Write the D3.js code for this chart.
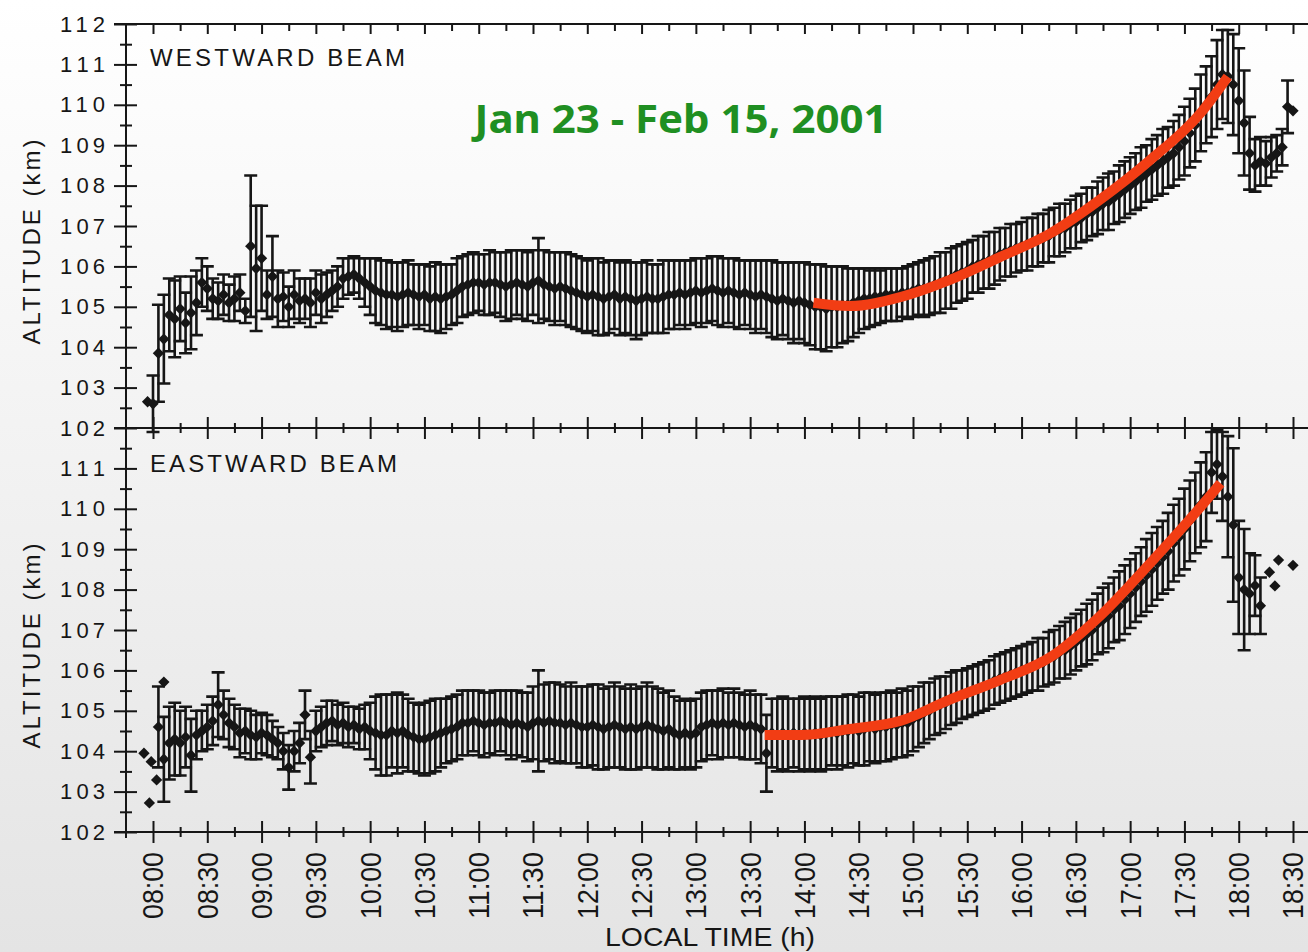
<!DOCTYPE html>
<html><head><meta charset="utf-8">
<script src="https://cdn.jsdelivr.net/npm/d3@7"></script>
<style>html,body{margin:0;padding:0;background:#fff;}svg{display:block;}</style>
</head><body>
<svg id="c" width="1308" height="952"></svg>
<script>
// ---------- DATA ----------
const times = [
"07:57",
"08:00","08:03","08:06","08:09","08:12","08:15","08:18","08:21","08:24","08:27","08:30","08:33","08:36","08:39","08:42","08:45","08:48","08:51","08:54","08:57",
"09:00","09:03","09:06","09:09","09:12","09:15","09:18","09:21","09:24","09:27","09:30","09:33","09:36","09:39","09:42","09:45","09:48","09:51","09:54","09:57",
"10:00","10:03","10:06","10:09","10:12","10:15","10:18","10:21","10:24","10:27","10:30","10:33","10:36","10:39","10:42","10:45","10:48","10:51","10:54","10:57",
"11:00","11:03","11:06","11:09","11:12","11:15","11:18","11:21","11:24","11:27","11:30","11:33","11:36","11:39","11:42","11:45","11:48","11:51","11:54","11:57",
"12:00","12:03","12:06","12:09","12:12","12:15","12:18","12:21","12:24","12:27","12:30","12:33","12:36","12:39","12:42","12:45","12:48","12:51","12:54","12:57",
"13:00","13:03","13:06","13:09","13:12","13:15","13:18","13:21","13:24","13:27","13:30","13:33","13:36","13:39","13:42","13:45","13:48","13:51","13:54","13:57",
"14:00","14:03","14:06","14:09","14:12","14:15","14:18","14:21","14:24","14:27","14:30","14:33","14:36","14:39","14:42","14:45","14:48","14:51","14:54","14:57",
"15:00","15:03","15:06","15:09","15:12","15:15","15:18","15:21","15:24","15:27","15:30","15:33","15:36","15:39","15:42","15:45","15:48","15:51","15:54","15:57",
"16:00","16:03","16:06","16:09","16:12","16:15","16:18","16:21","16:24","16:27","16:30","16:33","16:36","16:39","16:42","16:45","16:48","16:51","16:54","16:57",
"17:00","17:03","17:06","17:09","17:12","17:15","17:18","17:21","17:24","17:27","17:30","17:33","17:36","17:39","17:42","17:45","17:48","17:51","17:54","17:57",
"18:00","18:03","18:06","18:09","18:12","18:15","18:18","18:21","18:24","18:27","18:30"
];

// Westward beam: mean altitude (km) and error half-width (km)
const westAlt = [
102.65,
102.6,103.85,104.2,104.8,104.7,104.95,104.6,104.85,105.1,105.6,105.45,105.2,105.15,105.3,105.1,105.2,105.35,104.9,106.5,105.95,
106.2,105.3,105.75,105.2,105.25,105.0,105.3,105.15,105.2,105.1,105.35,105.2,105.3,105.4,105.5,105.7,105.75,105.8,105.7,105.6,
105.5,105.4,105.35,105.3,105.3,105.25,105.3,105.35,105.3,105.25,105.3,105.2,105.25,105.2,105.25,105.3,105.4,105.5,105.55,105.6,
105.6,105.55,105.6,105.6,105.55,105.5,105.55,105.6,105.55,105.5,105.6,105.65,105.55,105.5,105.45,105.5,105.45,105.4,105.35,105.3,
105.25,105.3,105.25,105.2,105.25,105.3,105.2,105.25,105.2,105.15,105.2,105.25,105.2,105.2,105.25,105.3,105.3,105.35,105.3,105.35,
105.4,105.35,105.4,105.45,105.4,105.35,105.4,105.35,105.3,105.35,105.3,105.25,105.3,105.25,105.2,105.15,105.2,105.15,105.1,105.15,
105.1,105.05,105.0,105.0,104.95,105.0,105.0,105.05,105.05,105.1,105.15,105.2,105.2,105.25,105.25,105.3,105.3,105.3,105.35,105.35,
105.4,105.45,105.45,105.5,105.55,105.6,105.65,105.7,105.8,105.85,105.9,106.0,106.05,106.1,106.15,106.2,106.3,106.35,106.4,106.45,
106.5,106.55,106.6,106.65,106.7,106.75,106.85,106.9,106.95,107.05,107.1,107.2,107.3,107.35,107.45,107.55,107.6,107.7,107.8,107.9,
108.0,108.1,108.2,108.3,108.4,108.5,108.6,108.7,108.8,108.95,109.1,109.3,109.5,109.8,110.0,110.2,110.5,110.75,110.7,110.5,
110.1,109.55,108.8,108.5,108.6,108.55,108.7,108.8,108.95,109.95,109.85
];
const westErr = [
0,
0.7,1.2,1.1,0.9,0.95,0.8,0.75,0.9,0.8,0.6,0.55,0.5,0.45,0.5,0.45,0.55,0.45,0.3,1.75,1.55,
1.3,0.6,1.0,0.7,0.6,0.5,0.6,0.55,0.5,0.6,0.55,0.6,0.55,0.5,0.5,0.5,0.45,0.45,0.5,0.6,
0.7,0.8,0.8,0.85,0.8,0.85,0.8,0.8,0.75,0.8,0.75,0.8,0.85,0.85,0.8,0.75,0.8,0.75,0.75,0.75,
0.7,0.75,0.8,0.75,0.8,0.85,0.85,0.8,0.85,0.85,0.8,1.05,0.85,0.85,0.9,0.85,0.9,0.9,0.9,0.9,
0.9,0.9,0.95,0.9,0.9,0.85,0.9,0.9,0.9,0.95,0.9,0.9,0.85,0.85,0.9,0.85,0.85,0.8,0.85,0.8,
0.8,0.85,0.8,0.8,0.85,0.85,0.8,0.85,0.85,0.8,0.85,0.9,0.85,0.9,0.95,0.95,0.9,0.95,1.0,0.95,
1.0,1.0,1.05,1.05,1.05,1.0,1.0,0.95,0.9,0.85,0.8,0.75,0.7,0.7,0.65,0.65,0.65,0.65,0.6,0.65,
0.65,0.65,0.7,0.7,0.7,0.75,0.7,0.75,0.7,0.7,0.7,0.65,0.7,0.65,0.7,0.65,0.65,0.6,0.65,0.6,
0.6,0.65,0.6,0.65,0.6,0.65,0.6,0.65,0.6,0.6,0.65,0.6,0.65,0.6,0.65,0.65,0.7,0.65,0.7,0.7,
0.7,0.7,0.75,0.7,0.75,0.75,0.8,0.75,0.8,0.8,0.85,0.85,0.9,0.95,0.95,1.0,1.1,1.1,1.15,1.25,
1.3,1.3,0.9,0.65,0.6,0.55,0.5,0.45,0.45,0.65,0
];

// Eastward beam
const eastAlt = [
null,
null,104.6,103.8,104.2,104.3,104.2,104.35,103.9,104.4,104.5,104.6,104.75,105.15,104.9,104.7,104.6,104.45,104.5,104.4,104.35,
104.45,104.4,104.3,104.2,104.0,103.6,104.0,104.2,104.9,103.85,104.5,104.6,104.7,104.75,104.65,104.7,104.6,104.65,104.55,104.6,
104.5,104.45,104.4,104.4,104.5,104.45,104.5,104.4,104.35,104.3,104.3,104.35,104.4,104.45,104.5,104.55,104.6,104.7,104.7,104.75,
104.7,104.65,104.7,104.7,104.75,104.7,104.65,104.7,104.65,104.6,104.7,104.75,104.7,104.75,104.7,104.7,104.65,104.7,104.65,104.6,
104.6,104.65,104.6,104.55,104.6,104.65,104.6,104.55,104.6,104.55,104.6,104.65,104.6,104.55,104.5,104.55,104.45,104.4,104.45,104.4,
104.45,104.6,104.65,104.7,104.65,104.7,104.65,104.7,104.65,104.6,104.65,104.6,104.55,103.95,104.45,104.4,104.45,104.4,104.45,104.4,
104.45,104.4,104.45,104.4,104.45,104.5,104.45,104.5,104.5,104.55,104.5,104.55,104.6,104.55,104.6,104.6,104.65,104.65,104.7,104.7,
104.8,104.85,104.95,105.0,105.1,105.15,105.2,105.3,105.35,105.4,105.45,105.5,105.55,105.6,105.65,105.75,105.8,105.85,105.9,105.95,
106.0,106.05,106.1,106.15,106.2,106.3,106.35,106.45,106.5,106.6,106.7,106.8,106.9,107.0,107.15,107.25,107.35,107.5,107.6,107.75,
107.9,108.05,108.2,108.35,108.5,108.65,108.8,108.95,109.15,109.3,109.5,109.7,109.9,110.1,110.3,110.9,111.1,110.8,110.3,109.6,
108.3,108.0,107.9,108.1,107.6,null,null,null,null,null,null
];
const eastErr = [
0,
0,1.0,1.05,0.9,0.9,0.8,0.75,0.9,0.6,0.5,0.55,0.6,0.8,0.6,0.6,0.55,0.6,0.55,0.6,0.55,
0.5,0.5,0.45,0.4,0.45,0.55,0.5,0.5,0.6,0.65,0.5,0.5,0.55,0.5,0.5,0.5,0.5,0.45,0.5,0.55,
0.7,0.9,1.0,1.0,0.9,1.0,0.9,0.9,0.85,0.85,0.9,0.9,0.9,0.85,0.8,0.8,0.8,0.8,0.8,0.75,
0.8,0.8,0.75,0.8,0.75,0.8,0.85,0.8,0.8,0.85,0.9,1.25,0.95,0.95,1.0,0.95,0.95,1.0,0.95,1.0,
1.0,1.0,1.05,1.0,1.0,1.05,1.0,1.0,1.05,1.0,1.0,1.05,1.0,1.0,0.95,0.95,0.9,0.85,0.85,0.85,
0.85,0.85,0.85,0.8,0.85,0.85,0.8,0.85,0.8,0.8,0.85,0.8,0.85,0.95,0.85,0.9,0.9,0.9,0.85,0.9,
0.9,0.9,0.9,0.9,0.9,0.85,0.9,0.85,0.9,0.85,0.85,0.9,0.85,0.85,0.85,0.85,0.85,0.8,0.85,0.8,
0.8,0.75,0.75,0.7,0.7,0.7,0.65,0.65,0.65,0.6,0.6,0.6,0.6,0.6,0.6,0.6,0.6,0.6,0.6,0.6,
0.6,0.6,0.6,0.65,0.6,0.65,0.65,0.65,0.7,0.7,0.7,0.7,0.75,0.75,0.75,0.8,0.8,0.8,0.85,0.85,
0.85,0.85,0.85,0.9,0.9,0.9,0.9,0.95,0.95,0.95,1.0,1.0,1.0,1.05,1.1,1.0,0.85,1.1,1.5,1.9,
1.4,1.5,1.0,0.75,0.7,0,0,0,0,0,0
];
// Eastward points without error bars
const eastExtraTime = ["07:55","07:58","07:59","08:02","08:06","18:17","18:20","18:22","18:30"];
const eastExtraAlt  = [103.95,102.72,103.74,103.29,105.71,108.43,108.09,108.73,108.6];

// Red fitted curves
const westFitTime = ["14:05","14:25","14:53","15:20","15:48","16:16","16:43","17:11","17:39","17:54"];
const westFitAlt  = [105.1,105.02,105.24,105.66,106.23,106.82,107.64,108.63,109.8,110.7];
const eastFitTime = ["13:38","13:58","14:25","14:53","15:20","15:48","16:16","16:43","17:11","17:39","17:50"];
const eastFitAlt  = [104.4,104.4,104.55,104.75,105.27,105.76,106.33,107.33,108.65,110.05,110.63];

// Axis ticks
const yTicks = [102,103,104,105,106,107,108,109,110,111,112];
const xTickLabels = ["08:00","08:30","09:00","09:30","10:00","10:30","11:00","11:30","12:00","12:30","13:00","13:30",
  "14:00","14:30","15:00","15:30","16:00","16:30","17:00","17:30","18:00","18:30"];

// ---------- DRAW ----------
const W = 1308, H = 952;
const svg = d3.select("#c");
const defs = svg.append("defs");
const grad = defs.append("linearGradient").attr("id","bg").attr("x1",0).attr("y1",0).attr("x2",0).attr("y2",1);
grad.append("stop").attr("offset","0%").attr("stop-color","#ffffff");
grad.append("stop").attr("offset","100%").attr("stop-color","#e4e4e4");
svg.append("rect").attr("width",W).attr("height",H).attr("fill","url(#bg)");

const ink = "#161616";
const FONT = "'Liberation Sans', Arial, sans-serif";
const toH = s => { const p = s.split(":"); return +p[0] + (+p[1]) / 60; };

const x = d3.scaleLinear().domain([8, 18.5]).range([153, 1293]);
const yW = d3.scaleLinear().domain([102, 112]).range([428, 24]);
const yE = d3.scaleLinear().domain([102, 112]).range([832, 428]);

const xMajor = xTickLabels.map(toH);
const xMinor = d3.pairs(xMajor).map(([a, b]) => (a + b) / 2);
const yMinor = d3.pairs(yTicks).map(([a, b]) => (a + b) / 2);

function styleAxis(g) {
  g.select(".domain").remove();
  g.selectAll("line").attr("stroke", ink).attr("stroke-width", 2);
}

// ---- Y axes ----
function drawY(y, labelVals) {
  svg.append("g").attr("transform","translate(126,0)")
    .call(d3.axisLeft(y).tickValues(labelVals).tickSize(12).tickPadding(9).tickFormat(d3.format("d")))
    .call(styleAxis)
    .call(g => g.selectAll("text").attr("font-family", FONT).attr("font-size", 22).attr("fill", ink)
      .attr("textLength", 45).attr("lengthAdjust", "spacing"));
  svg.append("g").attr("transform","translate(126,0)")
    .call(d3.axisRight(y).tickValues(labelVals).tickSize(11).tickFormat(""))
    .call(styleAxis);
  svg.append("g").attr("transform","translate(126,0)")
    .call(d3.axisLeft(y).tickValues(yMinor).tickSize(6).tickFormat(""))
    .call(styleAxis);
  svg.append("g").attr("transform","translate(126,0)")
    .call(d3.axisRight(y).tickValues(yMinor).tickSize(6).tickFormat(""))
    .call(styleAxis);
}
drawY(yW, yTicks);
drawY(yE, yTicks.filter(d => d < 112));

svg.append("line").attr("x1",126).attr("x2",126).attr("y1",24).attr("y2",838)
  .attr("stroke", ink).attr("stroke-width", 2);

// ---- X axes ----
[24, 428, 832].forEach(yy => {
  svg.append("line").attr("x1",114).attr("x2",W).attr("y1",yy).attr("y2",yy)
    .attr("stroke", ink).attr("stroke-width", 2);
  const downMaj = yy === 24 ? 10 : 11, downMin = yy === 24 ? 7 : 5;
  svg.append("g").attr("transform",`translate(0,${yy})`)
    .call(d3.axisBottom(x).tickValues(xMajor).tickSize(downMaj).tickFormat("")).call(styleAxis);
  svg.append("g").attr("transform",`translate(0,${yy})`)
    .call(d3.axisBottom(x).tickValues(xMinor).tickSize(downMin).tickFormat("")).call(styleAxis);
  if (yy !== 24) {
    svg.append("g").attr("transform",`translate(0,${yy})`)
      .call(d3.axisTop(x).tickValues(xMajor).tickSize(11).tickFormat("")).call(styleAxis);
    svg.append("g").attr("transform",`translate(0,${yy})`)
      .call(d3.axisTop(x).tickValues(xMinor).tickSize(5).tickFormat("")).call(styleAxis);
  }
});

// x tick labels (rotated)
svg.append("g").selectAll("text").data(xTickLabels).join("text")
  .attr("transform", d => `translate(${x(toH(d))},852) rotate(-90)`)
  .attr("text-anchor", "end").attr("dy", "0.36em")
  .attr("font-family", FONT).attr("font-size", 29).attr("fill", ink)
  .attr("textLength", 67).attr("lengthAdjust", "spacingAndGlyphs")
  .text(d => d);

// axis titles
svg.append("text").attr("x", 710).attr("y", 946).attr("text-anchor","middle")
  .attr("font-family", FONT).attr("font-size", 26).attr("fill", ink)
  .attr("textLength", 210).attr("lengthAdjust","spacingAndGlyphs")
  .text("LOCAL TIME (h)");
[[242],[646]].forEach(([cy]) => {
  svg.append("text").attr("transform", `translate(40,${cy}) rotate(-90)`).attr("text-anchor","middle")
    .attr("font-family", FONT).attr("font-size", 24).attr("fill", ink)
    .attr("textLength", 205).attr("lengthAdjust","spacing")
    .text("ALTITUDE (km)");
});

// panel names
svg.append("text").attr("x",150).attr("y",66).attr("font-family",FONT).attr("font-size",24).attr("fill",ink)
  .attr("textLength",255).attr("lengthAdjust","spacing").text("WESTWARD BEAM");
svg.append("text").attr("x",150).attr("y",472).attr("font-family",FONT).attr("font-size",24).attr("fill",ink)
  .attr("textLength",247).attr("lengthAdjust","spacing").text("EASTWARD BEAM");

// title
svg.append("text").attr("x", 681).attr("y", 133).attr("text-anchor","middle")
  .attr("font-family","'Noto Sans', 'DejaVu Sans', sans-serif").attr("font-weight","bold")
  .attr("font-size", 40).attr("fill", "#1f8f22")
  .attr("textLength", 413).attr("lengthAdjust","spacingAndGlyphs")
  .text("Jan 23 - Feb 15, 2001");

// ---- Data ----
const diamond = d3.symbol().type(d3.symbolSquare).size(64)();

function drawSeries(y, alt, err, exT, exA, fitT, fitA) {
  const pts = times.map((t, i) => ({ t: toH(t), v: alt[i], e: err[i] || 0 }))
    .filter(d => d.v != null);
  const gb = svg.append("g").attr("stroke", ink).attr("stroke-width", 2.6).attr("fill","none");
  const bars = pts.filter(d => d.e > 0);
  gb.selectAll("path").data(bars).join("path")
    .attr("d", d => {
      const xx = x(d.t), y1 = y(d.v + d.e), y2 = y(d.v - d.e), c = 6.5;
      return `M${xx},${y1}V${y2}M${xx - c},${y1}H${xx + c}M${xx - c},${y2}H${xx + c}`;
    });
  const all = pts.concat(exT.map((t, i) => ({ t: toH(t), v: exA[i] })));
  svg.append("g").selectAll("path").data(all).join("path")
    .attr("d", diamond)
    .attr("transform", d => `translate(${x(d.t)},${y(d.v)}) rotate(45)`)
    .attr("fill", ink);
  const line = d3.line().x(d => x(d[0])).y(d => y(d[1])).curve(d3.curveMonotoneX);
  svg.append("path").datum(fitT.map((t, i) => [toH(t), fitA[i]]))
    .attr("d", line).attr("fill","none").attr("stroke","#f23d14").attr("stroke-width",10);
}
drawSeries(yW, westAlt, westErr, [], [], westFitTime, westFitAlt);
drawSeries(yE, eastAlt, eastErr, eastExtraTime, eastExtraAlt, eastFitTime, eastFitAlt);
</script>
</body></html>
